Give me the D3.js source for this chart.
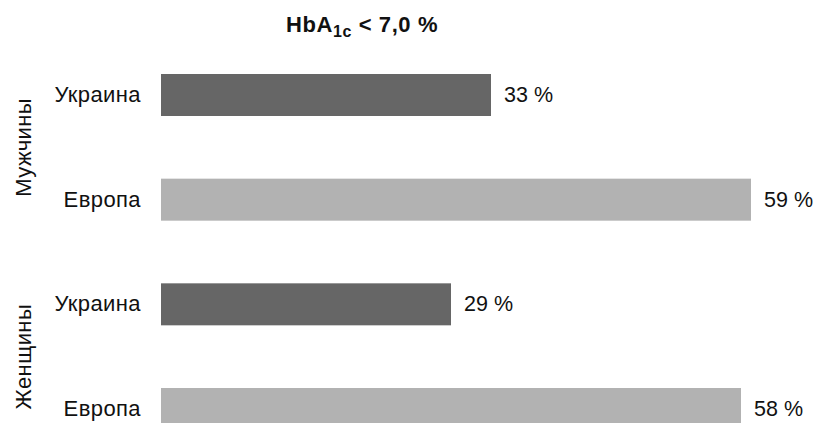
<!DOCTYPE html>
<html>
<head>
<meta charset="utf-8">
<script src="https://cdn.jsdelivr.net/npm/d3@7"></script>
<style>
  body { margin: 0; background: #fff; }
  text { font-family: "Liberation Sans", Arial, sans-serif; fill: #111; }
</style>
</head>
<body>
<div id="chart"></div>
<script>
// data
const groups = ["Мужчины", "Женщины"];
const regions = ["Украина", "Европа"];
const values = [33, 59, 29, 58];

const width = 816, height = 423;
const svg = d3.select("#chart").append("svg")
    .attr("width", width)
    .attr("height", height);

const rows = [];
groups.forEach((g, gi) => {
    regions.forEach((r, ri) => {
        rows.push({ group: g, region: r, key: g + "-" + r, value: values[gi * 2 + ri], ri: ri });
    });
});

// scales
const x = d3.scaleLinear().domain([0, 60]).range([161, 761]);
const y = d3.scalePoint().domain(rows.map(d => d.key)).range([95, 409]);
const color = d3.scaleOrdinal().domain(regions).range(["#666666", "#b2b2b2"]);
const barH = 42;

// title
const title = svg.append("text")
    .attr("x", 362)
    .attr("y", 32)
    .attr("text-anchor", "middle")
    .style("font-weight", "bold")
    .style("font-size", "22px")
    .style("letter-spacing", "0.6px");
title.append("tspan").text("HbA");
title.append("tspan").attr("dy", 5).style("font-size", "16px").text("1c");
title.append("tspan").attr("dy", -5).text(" < 7,0 %");

// bars
svg.selectAll(".bar")
    .data(rows)
    .enter()
    .append("rect")
    .attr("class", "bar")
    .attr("x", x(0))
    .attr("y", d => y(d.key) - barH / 2)
    .attr("width", d => x(d.value) - x(0))
    .attr("height", barH)
    .attr("fill", d => color(d.region));

// value labels
svg.selectAll(".val")
    .data(rows)
    .enter()
    .append("text")
    .attr("class", "val")
    .attr("x", d => x(d.value) + 13)
    .attr("y", d => y(d.key) + 7)
    .style("font-size", "21.5px")
    .text(d => d.value + " %");

// row labels
svg.selectAll(".row")
    .data(rows)
    .enter()
    .append("text")
    .attr("class", "row")
    .attr("x", 141)
    .attr("y", d => y(d.key) + 7)
    .attr("text-anchor", "end")
    .style("font-size", "22px")
    .style("letter-spacing", "0.4px")
    .text(d => d.region);

// group labels (rotated)
groups.forEach((g, gi) => {
    const cy = (y(g + "-" + regions[0]) + y(g + "-" + regions[1])) / 2;
    svg.append("text")
        .attr("transform", `translate(31,${cy}) rotate(-90)`)
        .attr("text-anchor", "middle")
        .style("font-size", "22px")
        .style("letter-spacing", "0.4px")
        .text(g);
});
</script>
</body>
</html>
